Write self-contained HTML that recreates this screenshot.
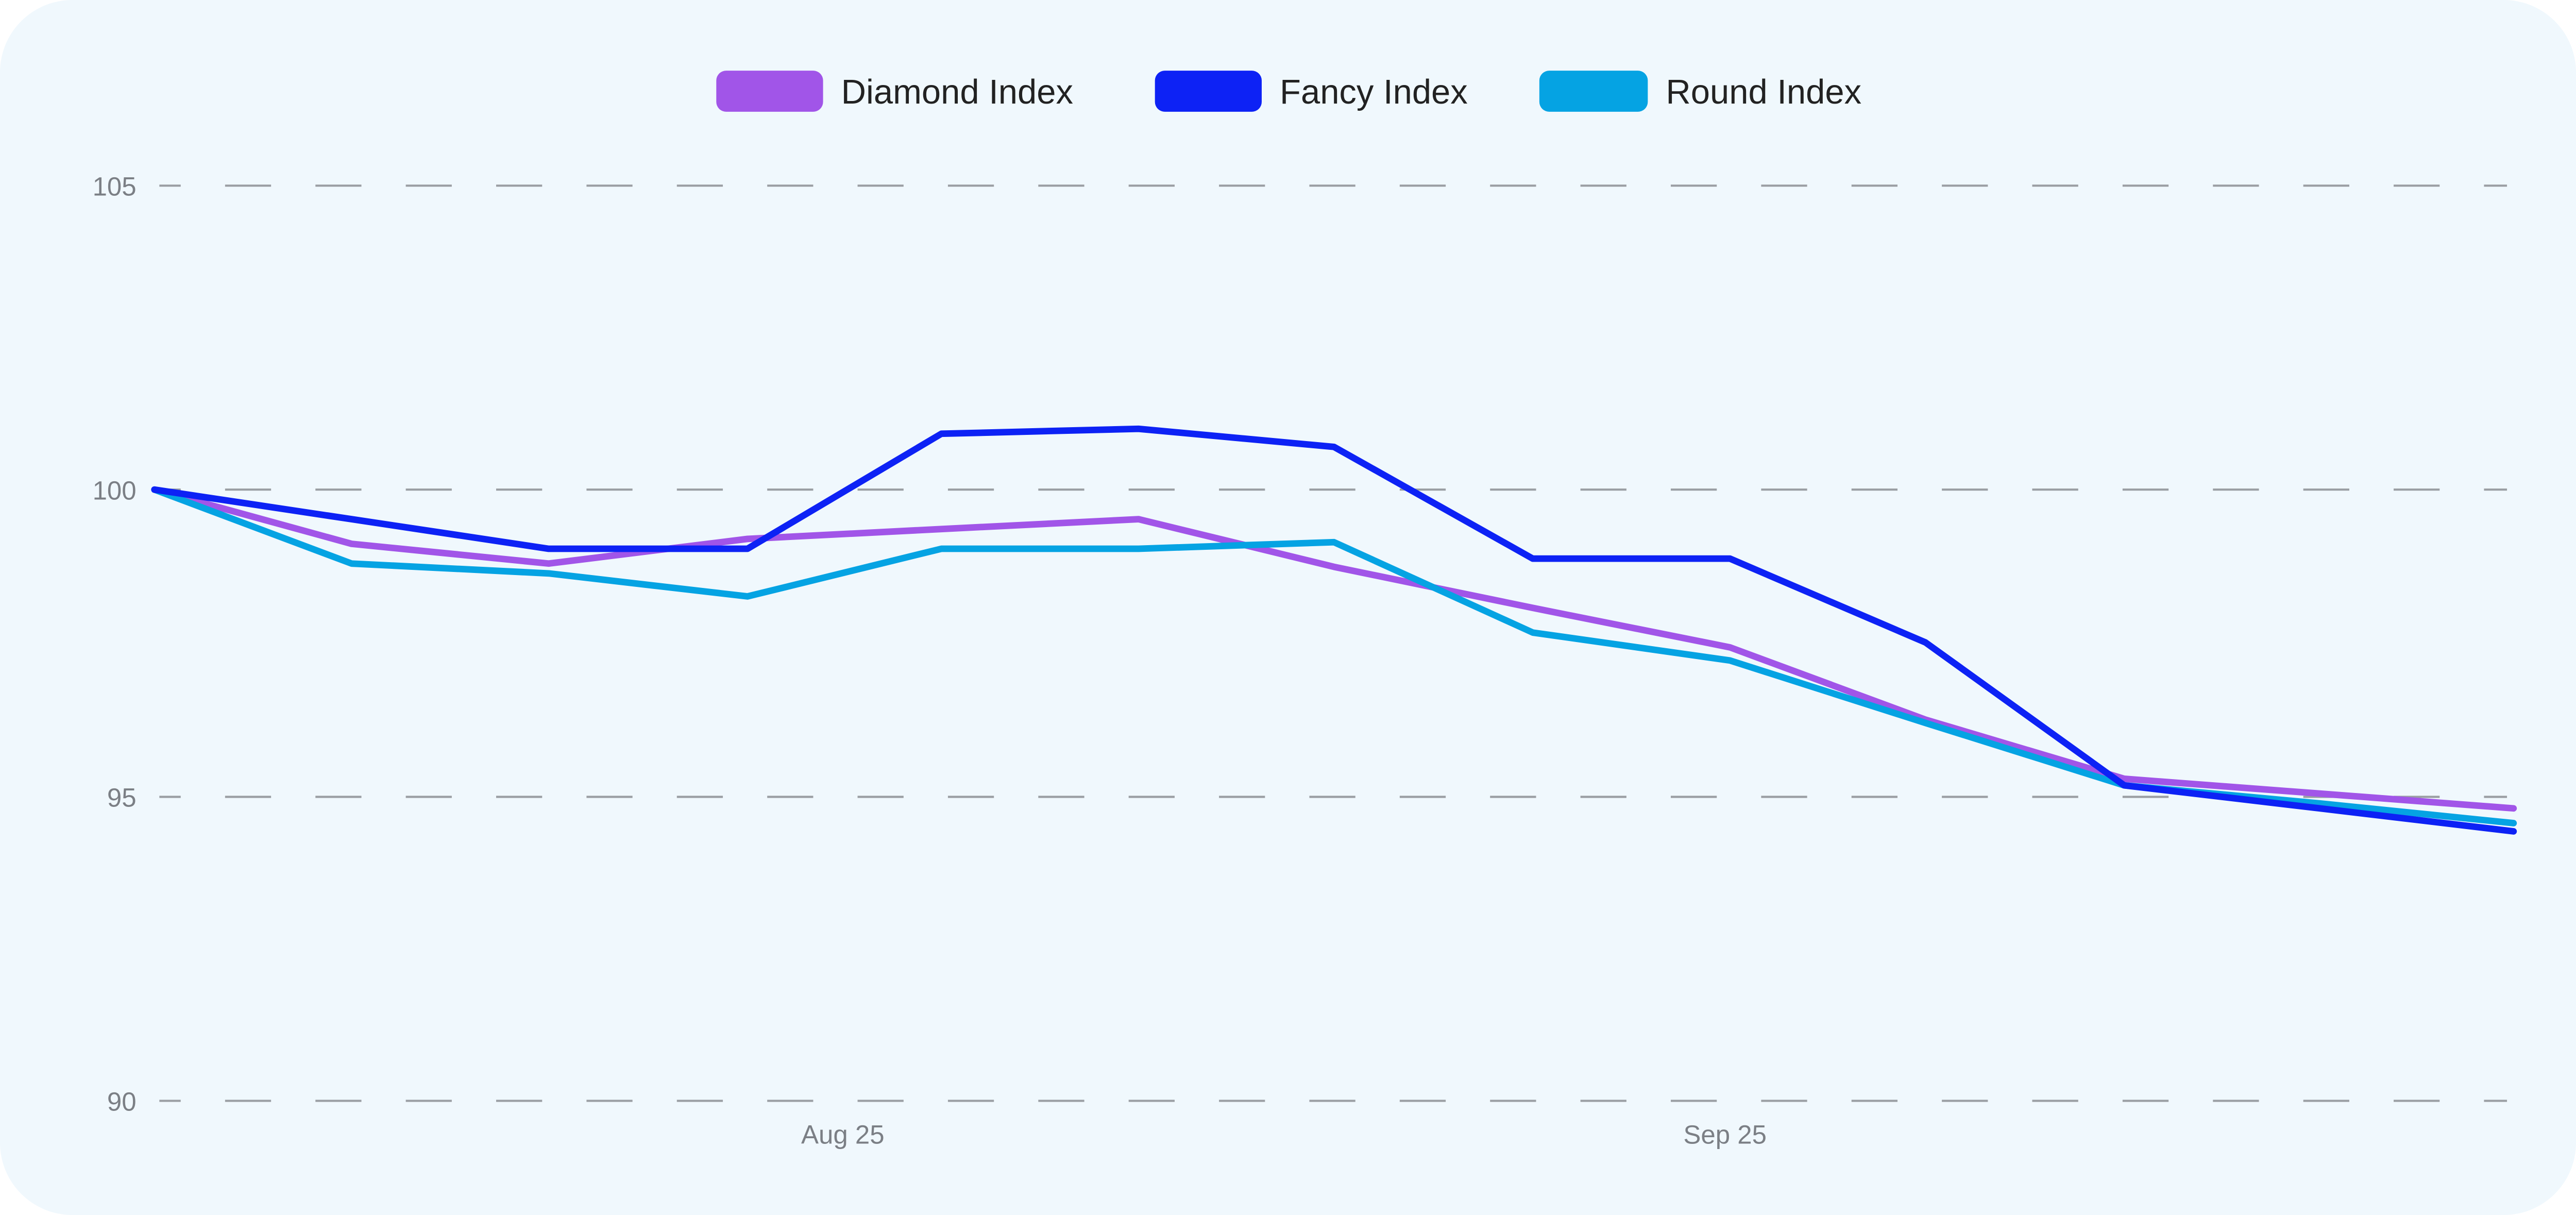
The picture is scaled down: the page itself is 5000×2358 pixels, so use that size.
<!DOCTYPE html>
<html><head><style>
html,body{margin:0;padding:0;background:#fff;}
svg{display:block;}
</style></head><body>
<svg width="5000" height="2358" viewBox="0 0 1568 739.5" preserveAspectRatio="none" xmlns="http://www.w3.org/2000/svg">
<rect x="0" y="0" width="1568" height="739.5" rx="44" ry="44" fill="#f0f8fd"/>
<g stroke="#9a9ea3" stroke-width="1.3" stroke-dasharray="28 27" stroke-dashoffset="15">
<line x1="97" y1="113" x2="1526" y2="113"/>
<line x1="97" y1="298" x2="1526" y2="298"/>
<line x1="97" y1="485" x2="1526" y2="485"/>
<line x1="97" y1="670" x2="1526" y2="670"/>
</g>
<g font-family="Liberation Sans, sans-serif" font-size="16" fill="#7b7f85" text-anchor="end">
<text x="83" y="119">105</text>
<text x="83" y="304">100</text>
<text x="83" y="491">95</text>
<text x="83" y="676">90</text>
</g>
<g font-family="Liberation Sans, sans-serif" font-size="16" fill="#7b7f85" text-anchor="middle">
<text x="513" y="696">Aug 25</text>
<text x="1050" y="696">Sep 25</text>
</g>
<g fill="none" stroke-width="4" stroke-linejoin="round" stroke-linecap="round">
<polyline stroke="#a155e8" points="94,298 214,331 334,343 455,328 573,322 693,316 812,345 933,370 1053,394 1172,438 1293,474 1412,483 1530,492"/>
<polyline stroke="#05a3e3" points="94,298 214,343 334,349 455,363 573,334 693,334 812,330 933,385 1053,402 1172,440 1293,478 1412,489 1530,501"/>
<polyline stroke="#0d22f5" points="94,298 214,316 334,334 455,334 573,264 693,261 812,272 933,340 1053,340 1172,391 1293,478 1412,492 1530,506"/>
</g>
<g font-family="Liberation Sans, sans-serif" font-size="21" fill="#222">
<rect x="436" y="43" width="65" height="25" rx="6" fill="#a155e8"/>
<text x="512" y="63">Diamond Index</text>
<rect x="703" y="43" width="65" height="25" rx="6" fill="#0d22f5"/>
<text x="779" y="63">Fancy Index</text>
<rect x="937" y="43" width="66" height="25" rx="6" fill="#05a3e3"/>
<text x="1014" y="63">Round Index</text>
</g>
</svg>
</body></html>
